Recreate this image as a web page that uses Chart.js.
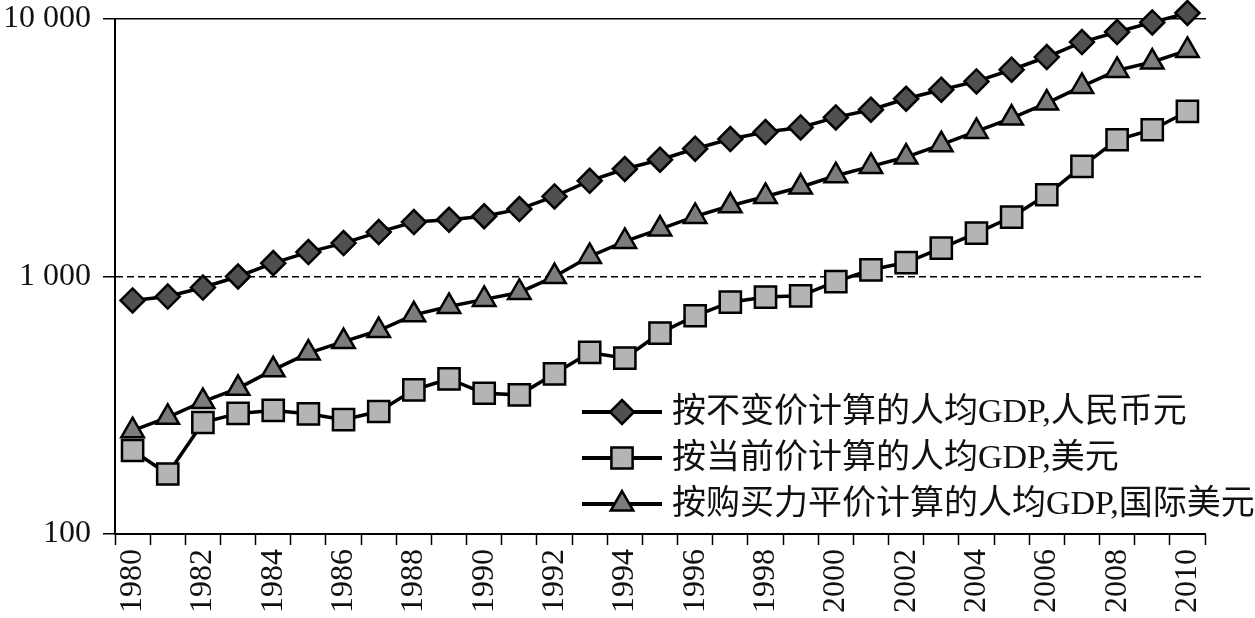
<!DOCTYPE html>
<html>
<head>
<meta charset="utf-8">
<script src="https://cdn.jsdelivr.net/npm/chart.js@4/dist/chart.umd.min.js"></script>
<style>
  html, body { margin: 0; padding: 0; background: #fff; }
  #wrap { width: 1255px; height: 618px; }
</style>
</head>
<body>
<div id="wrap"><canvas id="c"></canvas></div>
<script>
// ── 데이터 ──────────────────────────────────────────────
const years = [
  '1980','1981','1982','1983','1984','1985','1986','1987','1988','1989',
  '1990','1991','1992','1993','1994','1995','1996','1997','1998','1999',
  '2000','2001','2002','2003','2004','2005','2006','2007','2008','2009','2010'
];

// 按不变价计算的人均GDP, 人民币元
const constRmb = [
  807, 836, 906, 1000, 1127, 1244, 1348, 1488, 1627, 1661,
  1714, 1827, 2046, 2354, 2615, 2841, 3135, 3419, 3639, 3793,
  4148, 4443, 4901, 5313, 5722, 6353, 7118, 8139, 8902, 9701, 10551
];

// 按当前价计算的人均GDP, 美元
const currentUsd = [
  211, 171, 271, 294, 302, 293, 278, 299, 363, 400,
  352, 347, 419, 507, 482, 603, 704, 795, 832, 841,
  956, 1062, 1133, 1289, 1474, 1702, 2077, 2676, 3397, 3715, 4375
];

// 按购买力平价计算的人均GDP, 国际美元
const pppIntl = [
  252, 284, 327, 368, 434, 504, 559, 617, 710, 765,
  815, 867, 1000, 1196, 1368, 1528, 1711, 1882, 2046, 2226,
  2462, 2676, 2910, 3249, 3660, 4125, 4717, 5472, 6314, 6807, 7551
];

const seriesNames = [
  '按不变价计算的人均GDP,人民币元',
  '按当前价计算的人均GDP,美元',
  '按购买力平价计算的人均GDP,国际美元'
];

const yTickValues = [100, 1000, 10000];
const yTickLabels = ['100', '1 000', '10 000'];

// ── 스타일 ──────────────────────────────────────────────
const FONT = '"Liberation Serif", "Noto Sans CJK SC", serif';
const MARKERS = [
  { style: 'rectRot',  radius: 12, fill: '#505050' },
  { style: 'rect',     radius: 15, fill: '#b4b4b4' },
  { style: 'triangle', radius: 13, fill: '#7c7c7c' },
];

function makeDataset(label, data, m) {
  return {
    label,
    data,
    borderColor: '#000',
    borderWidth: 3.5,
    pointStyle: m.style,
    pointRadius: m.radius,
    pointBackgroundColor: m.fill,
    pointBorderColor: '#000',
    pointBorderWidth: 2.5,
    tension: 0,
    clip: false,
  };
}

// 그림 안쪽 오른쪽 아래 범례 (선 + 마커)
function drawMarker(ctx, m, x, y) {
  const r = m.radius;
  ctx.beginPath();
  if (m.style === 'rectRot') {
    ctx.moveTo(x, y - r); ctx.lineTo(x + r, y); ctx.lineTo(x, y + r); ctx.lineTo(x - r, y);
  } else if (m.style === 'rect') {
    const s = Math.SQRT1_2 * r;
    ctx.rect(x - s, y - s, 2 * s, 2 * s);
  } else {
    ctx.moveTo(x, y - r);
    ctx.lineTo(x + r * Math.sin(2 * Math.PI / 3), y + r * 0.5);
    ctx.lineTo(x - r * Math.sin(2 * Math.PI / 3), y + r * 0.5);
  }
  ctx.closePath();
  ctx.fillStyle = m.fill;
  ctx.fill();
  ctx.lineWidth = 2.5;
  ctx.strokeStyle = '#000';
  ctx.stroke();
}

const insideLegend = {
  id: 'insideLegend',
  afterDraw(chart) {
    const { ctx, chartArea } = chart;
    const x0 = chartArea.right - 623;
    const rowGap = 46;
    const yLast = chartArea.bottom - 30;
    ctx.save();
    ctx.font = '34px ' + FONT;
    ctx.textBaseline = 'middle';
    chart.data.datasets.forEach((ds, i) => {
      const y = yLast - (chart.data.datasets.length - 1 - i) * rowGap;
      ctx.beginPath();
      ctx.moveTo(x0, y);
      ctx.lineTo(x0 + 80, y);
      ctx.lineWidth = 4;
      ctx.strokeStyle = '#000';
      ctx.stroke();
      drawMarker(ctx, MARKERS[i], x0 + 40, y);
      ctx.fillStyle = '#111';
      ctx.fillText(ds.label, x0 + 90, y + 1);
    });
    ctx.restore();
  }
};

// ── 차트 ──────────────────────────────────────────────
new Chart(document.getElementById('c'), {
  type: 'line',
  data: {
    labels: years,
    datasets: [
      makeDataset(seriesNames[0], constRmb, MARKERS[0]),
      makeDataset(seriesNames[1], currentUsd, MARKERS[1]),
      makeDataset(seriesNames[2], pppIntl, MARKERS[2]),
    ],
  },
  options: {
    responsive: true,
    maintainAspectRatio: false,
    animation: false,
    layout: { padding: { left: 6, right: 50, top: 0, bottom: 1 } },
    plugins: {
      legend: { display: false },
      tooltip: { enabled: false },
    },
    scales: {
      x: {
        type: 'category',
        offset: true,
        grid: {
          offset: true,
          drawOnChartArea: false,
          tickLength: 11,
          tickColor: '#000',
          tickWidth: 1.5,
        },
        border: { color: '#000', width: 2 },
        ticks: {
          autoSkip: false,
          maxRotation: 90,
          minRotation: 90,
          padding: 4,
          color: '#111',
          font: { family: FONT, size: 32 },
          callback: function (v, i) {
            const y = years[i];
            return Number(y) % 2 === 0 ? y : '';
          },
        },
      },
      xTop: {
        type: 'category',
        position: 'top',
        offset: true,
        grid: { display: false, drawTicks: false },
        ticks: { display: false },
        border: { color: '#000', width: 1.5 },
        afterFit: axis => { axis.height = 0; },
      },
      y: {
        type: 'logarithmic',
        min: 100,
        max: 10000,
        afterBuildTicks: axis => {
          axis.ticks = yTickValues.map(v => ({ value: v }));
        },
        afterFit: axis => { axis.width = 109; axis.paddingTop = 19; },
        grid: {
          color: c => (c.tick && c.tick.value === 1000 ? '#000' : 'rgba(0,0,0,0)'),
          lineWidth: 1.5,
          tickLength: 12,
          tickColor: '#000',
          tickWidth: 1.5,
        },
        border: { color: '#000', width: 2, dash: [7, 4] },
        ticks: {
          padding: 12,
          color: '#111',
          font: { family: FONT, size: 32 },
          callback: v => {
            const i = yTickValues.indexOf(v);
            return i >= 0 ? yTickLabels[i] : null;
          },
        },
      },
    },
  },
  plugins: [insideLegend],
});
</script>
</body>
</html>
